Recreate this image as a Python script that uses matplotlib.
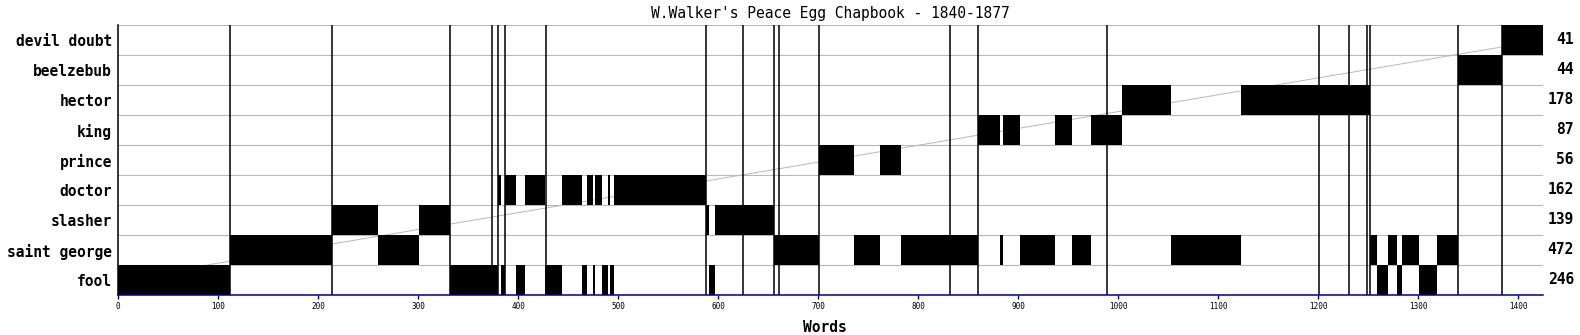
import matplotlib
matplotlib.use("Agg")
import matplotlib.pyplot as plt
from matplotlib.transforms import blended_transform_factory

# Speakers from the bottom row up, with the word counts printed on the right.
speakers = ["fool", "saint george", "slasher", "doctor", "prince",
	"king", "hector", "beelzebub", "devil doubt"]
word_counts = [246, 472, 139, 162, 56, 87, 178, 44, 41]
total_words = 1425

# Speech segments, as (first word, last word) for each speaker.
fool = [(0, 112), (332, 380), (383, 387), (398, 407), (427, 444), (464, 469),
	(475, 477), (484, 490), (492, 496), (591, 597), (1259, 1270), (1279, 1284), (1301, 1319)]
saint_george = [(112, 214), (260, 301), (656, 701), (736, 762), (783, 860), (882, 885),
	(902, 937), (954, 973), (1053, 1123), (1252, 1259), (1270, 1279), (1284, 1301), (1319, 1340)]
slasher = [(214, 260), (301, 332), (588, 591), (597, 656)]
doctor = [(380, 383), (387, 398), (407, 427), (444, 464), (469, 475), (477, 484),
	(490, 492), (496, 588)]
prince = [(701, 736), (762, 783)]
king = [(860, 882), (885, 902), (937, 954), (973, 1004)]
hector = [(1004, 1053), (1123, 1252)]
beelzebub = [(1340, 1384)]
devil_doubt = [(1384, 1425)]
segments = [fool, saint_george, slasher, doctor, prince, king, hector, beelzebub, devil_doubt]

# Scene breaks, drawn as black vertical lines.
scene_breaks = [112, 214, 332, 374, 380, 387, 428, 588, 625, 656, 661, 701,
	832, 860, 989, 1201, 1231, 1249, 1252, 1340, 1384]
x_ticks = [0, 100, 200, 300, 400, 500, 600, 700, 800, 900, 1000, 1100, 1200, 1300, 1400]

MONO = "DejaVu Sans Mono"
GREY = "#b8b8b8"
NAVY = "#000080"

W, H = 1580, 335
fig = plt.figure(figsize=(W / 100, H / 100), dpi=100)
ax = fig.add_axes([118.3 / W, 40 / H, 1425 / W, 270 / H])
ax.set_xlim(0, total_words)
ax.set_ylim(0, len(speakers))

# row separators and the reference diagonal sit under the bars
for i in range(1, len(speakers) + 1):
	ax.axhline(i, color=GREY, lw=0.8, zorder=1)
ax.plot([0, total_words], [0.5, len(speakers) - 0.5], color=GREY, lw=0.7, zorder=1)

for i, segs in enumerate(segments):
	ax.broken_barh([(s, e - s) for s, e in segs], (i, 1),
		facecolor="black", edgecolor="none", zorder=2)

ax.vlines(scene_breaks, 0, len(speakers), color="black", lw=1.1, zorder=3)

for side in ["top", "right"]:
	ax.spines[side].set_visible(False)
ax.spines["left"].set_color("black")
ax.spines["left"].set_linewidth(1.1)
ax.spines["bottom"].set_color(NAVY)
ax.spines["bottom"].set_linewidth(1.1)
ax.spines["bottom"].set_zorder(4)

ax.set_yticks([i + 0.5 for i in range(len(speakers))])
ax.set_yticklabels(speakers, family=MONO, fontweight="bold", fontsize=10.5)
ax.tick_params(axis="y", length=0, pad=4.5)

ax.set_xticks(x_ticks)
ax.set_xticklabels([str(t) for t in x_ticks], family=MONO, fontsize=5.5)
ax.tick_params(axis="x", length=3, width=1, color=NAVY, pad=2)

# word totals on the right side of each row
trans = blended_transform_factory(ax.transAxes, ax.transData)
for i, c in enumerate(word_counts):
	ax.text(1.0215, i + 0.5, str(c), transform=trans, ha="right", va="center",
		family=MONO, fontweight="bold", fontsize=10.5)

fig.text(830.8 / W, 1 - 13.5 / H, "W.Walker's Peace Egg Chapbook - 1840-1877",
	ha="center", va="center", family=MONO, fontsize=10.5)
fig.text(825 / W, 1 - 327 / H, "Words", ha="center", va="center",
	family=MONO, fontweight="bold", fontsize=10.5)

fig.savefig("out.png", dpi=100, facecolor="white")
